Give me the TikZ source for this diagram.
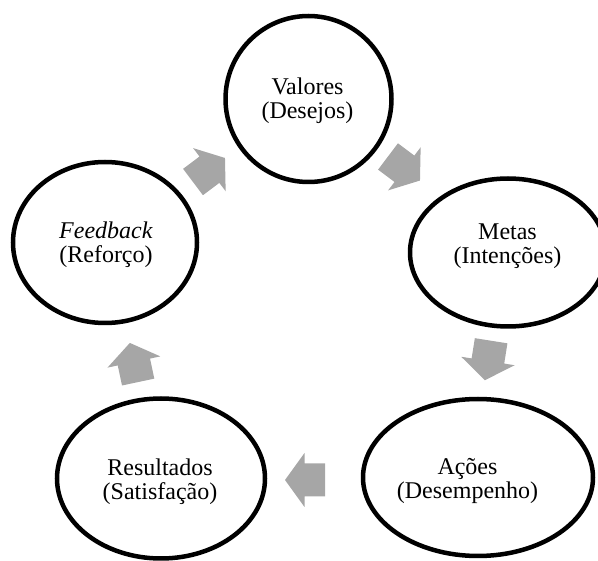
\documentclass[tikz,border=0pt]{standalone}
\usepackage{fontspec}
\setmainfont{Liberation Serif}
\usetikzlibrary{shapes.geometric}
\definecolor{arrowgray}{RGB}{166,166,166}
\tikzset{
  blob/.style={draw=black, line width=4.5pt, shape=ellipse, inner sep=0pt, outer sep=0pt},
  lbl/.style={align=center, inner sep=0pt, font=\fontsize{24}{24}\selectfont},
  blockarrow/.pic={\fill[arrowgray] (-20,-16.5) -- (0.5,-16.5) -- (0.5,-27) -- (20,0) -- (0.5,27) -- (0.5,16.5) -- (-20,16.5) -- cycle;}
}
\begin{document}
\begin{tikzpicture}[x=1pt,y=-1pt]
\useasboundingbox (0,0) rectangle (598,561);
\begin{scope}
\clip (0,14) rectangle (598,561);
\node[blob, minimum width=166pt, minimum height=166pt] (val) at (308.5,99) {};
\node[blob, minimum width=196pt, minimum height=148pt] (met) at (508,252.5) {};
\node[blob, minimum width=230pt, minimum height=157pt] (aco) at (478,477.5) {};
\node[blob, minimum width=208pt, minimum height=160pt] (res) at (161,478.5) {};
\node[blob, minimum width=184pt, minimum height=161pt] (fee) at (105,242.5) {};
\end{scope}
\node[lbl] (tval) at (307.5,101) {Valores\\(Desejos)};
\node[lbl] (tmet) at (507.5,246.5) {Metas\\(Intenções)};
\node[lbl] (taco) at (467.5,481) {Ações\\(Desempenho)};
\node[lbl] (tres) at (160,482) {Resultados\\(Satisfação)};
\node[lbl] (tfee) at (106,245) {\textit{Feedback}\\(Reforço)};
\pic[rotate=-37] (a1) at (404,168.5) {blockarrow};
\pic[rotate=-99] (a2) at (488,360.5) {blockarrow};
\pic[rotate=180] (a3) at (305,480) {blockarrow};
\pic[rotate=102] (a4) at (134,362.5) {blockarrow};
\pic[rotate=37] (a5) at (209,170) {blockarrow};
\end{tikzpicture}
\end{document}
